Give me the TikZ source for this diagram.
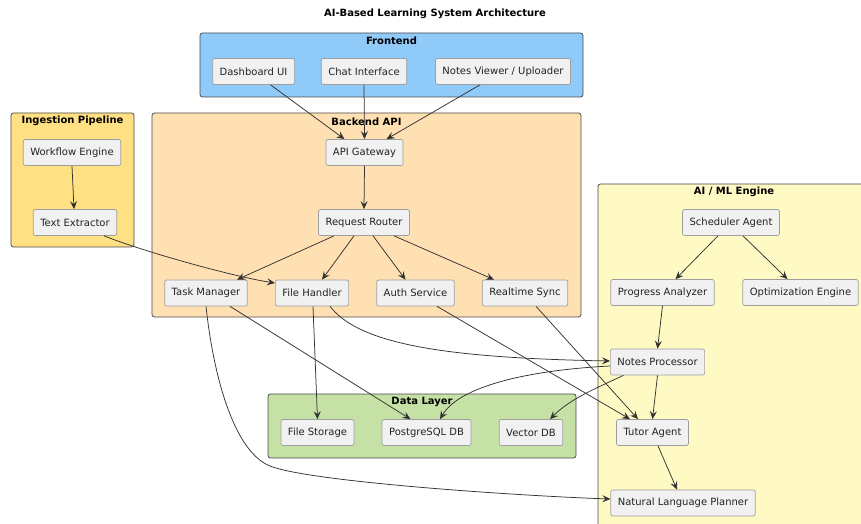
\documentclass[tikz,border=0pt]{standalone}
\usepackage{fontspec}
\setmainfont{DejaVu Sans}
\usetikzlibrary{arrows.meta}
\definecolor{feC}{HTML}{90CAF9}
\definecolor{beC}{HTML}{FFE0B2}
\definecolor{inC}{HTML}{FFE082}
\definecolor{aiC}{HTML}{FFF9C4}
\definecolor{dlC}{HTML}{C5E1A5}
\definecolor{boxC}{HTML}{F1F1F1}
\definecolor{boxB}{HTML}{9E9E9E}
\definecolor{clB}{HTML}{4A4A4A}
\definecolor{lnC}{HTML}{333333}
\definecolor{txC}{HTML}{222222}
\tikzset{
  comp/.style={draw=boxB, fill=boxC, rounded corners=2bp, line width=0.7bp,
    inner xsep=7bp, inner ysep=0bp, minimum height=26bp,
    font=\fontsize{10bp}{12bp}\selectfont, text=txC},
  cluster/.style={draw=clB, rounded corners=2.5bp, line width=0.8bp, inner sep=0pt, outer sep=0pt},
  ctitle/.style={font=\fontsize{10bp}{12bp}\selectfont\bfseries, text=black, inner sep=0pt},
  arr/.style={draw=lnC, line width=0.75bp, -{Stealth[length=8bp,width=7bp,inset=3bp]}},
}
\begin{document}
\begin{tikzpicture}[x=1bp,y=-1bp]
\useasboundingbox (0,0) rectangle (861,524);
\clip (0,0) rectangle (861,524);
% clusters
\node[cluster, fill=feC, minimum width=383bp, minimum height=64bp] (frontend) at (391.5,65) {};
\node[cluster, fill=inC, minimum width=123bp, minimum height=134bp] (ingest) at (72.5,180) {};
\node[cluster, fill=beC, minimum width=429bp, minimum height=204bp] (backend) at (366.5,215) {};
\node[cluster, fill=aiC, minimum width=272bp, minimum height=356bp] (aiml) at (734,362) {};
\node[cluster, fill=dlC, minimum width=308bp, minimum height=64bp] (data) at (422,426) {};
% titles
\node[ctitle] (title) at (435,14) {AI-Based Learning System Architecture};
\node[ctitle] (frontendT) at (391.5,40.5) {Frontend};
\node[ctitle] (ingestT) at (72.5,121) {Ingestion Pipeline};
\node[ctitle] (backendT) at (366.5,121.5) {Backend API};
\node[ctitle] (aimlT) at (734,191.5) {AI / ML Engine};
\node[ctitle] (dataT) at (422,402) {Data Layer};
% components
\node[comp] (dash) at (253.5,71.5) {Dashboard UI};
\node[comp] (chat) at (364,71.5) {Chat Interface};
\node[comp] (viewer) at (503,71.5) {Notes Viewer / Uploader};
\node[comp] (wf) at (72,152.5) {Workflow Engine};
\node[comp] (te) at (75,222.5) {Text Extractor};
\node[comp] (gw) at (364.5,152.5) {API Gateway};
\node[comp] (rr) at (364,222.5) {Request Router};
\node[comp] (tm) at (206,293) {Task Manager};
\node[comp] (fh) at (312,293) {File Handler};
\node[comp] (auth) at (415.5,293) {Auth Service};
\node[comp] (rs) at (525,293) {Realtime Sync};
\node[comp] (sched) at (731,222.5) {Scheduler Agent};
\node[comp] (prog) at (662.5,292.5) {Progress Analyzer};
\node[comp] (opt) at (800.5,292.5) {Optimization Engine};
\node[comp] (np) at (657.5,362) {Notes Processor};
\node[comp] (tutor) at (652.5,432.5) {Tutor Agent};
\node[comp] (nlp) at (683,503) {Natural Language Planner};
\node[comp] (fs) at (317.5,432.5) {File Storage};
\node[comp] (pg) at (426.5,432.5) {PostgreSQL DB};
\node[comp] (vdb) at (531,432.5) {Vector DB};
\coordinate (tmbend) at (270,466);
% connectors
\draw[arr] ([xshift=17bp]dash.south) -- ([xshift=-20bp]gw.north);
\draw[arr] (chat.south) -- (gw.north);
\draw[arr] ([xshift=-23bp]viewer.south) -- ([xshift=22bp]gw.north);
\draw[arr] (gw.south) -- (rr.north);
\draw[arr] ([xshift=-30bp]rr.south) -- ([xshift=31bp]tm.north);
\draw[arr] ([xshift=-10bp]rr.south) -- ([xshift=10bp]fh.north);
\draw[arr] ([xshift=9bp]rr.south) -- ([xshift=-10bp]auth.north);
\draw[arr] ([xshift=30bp]rr.south) -- ([xshift=-31bp]rs.north);
\draw[arr] (wf.south) -- ([xshift=-1bp]te.north);
\draw[arr] ([xshift=29bp]te.south) .. controls +(40,16) and +(-40,-6) .. ([yshift=10bp]fh.west);
\draw[arr] ([xshift=-13bp]sched.south) -- ([xshift=13bp]prog.north);
\draw[arr] ([xshift=12bp]sched.south) -- ([xshift=-13bp]opt.north);
\draw[arr] (prog.south) -- (np.north);
\draw[arr] (np.south) -- (tutor.north);
\draw[arr] ([xshift=5.5bp]tutor.south) -- ([xshift=-6bp]nlp.north);
\draw[arr] ([xshift=24bp]tm.south) -- ([xshift=-16bp]pg.north);
\draw[arr] (tm.south) .. controls +(8,74) and +(-35,-14) .. (tmbend)
   .. controls +(40,16) and +(-89,-3) .. ([yshift=4bp]nlp.west);
\draw[arr] ([xshift=1bp]fh.south) -- (fs.north);
\draw[arr] ([xshift=18bp]fh.south) .. controls +(30,39) and +(-159,-3) .. ([yshift=1bp]np.west);
\draw[arr] ([xshift=21.5bp]auth.south) -- ([xshift=-22.5bp]tutor.north);
\draw[arr] ([xshift=11bp]rs.south) -- ([xshift=-14.5bp]tutor.north);
\draw[arr] ([yshift=-4bp]np.west) .. controls +(-78,4) and +(20,-34) .. ([xshift=13.5bp]pg.north);
\draw[arr] ([xshift=-34bp]np.south) .. controls +(-30,14) and +(20,-20) .. ([xshift=19bp]vdb.north);
\end{tikzpicture}
\end{document}
